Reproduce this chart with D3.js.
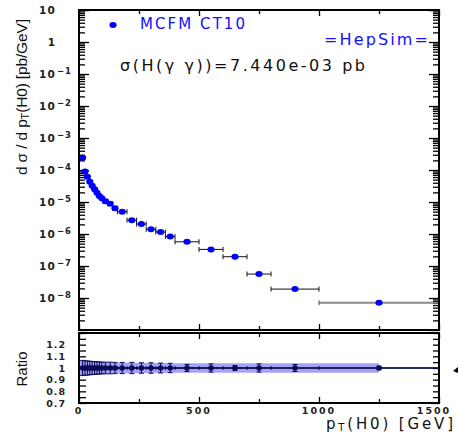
<!DOCTYPE html>
<html><head><meta charset="utf-8">
<script src="https://cdn.jsdelivr.net/npm/d3@7"></script>
<style>
html,body{margin:0;padding:0;background:#fff;}
svg{display:block;}
.tl{font-family:"DejaVu Sans",sans-serif;font-weight:bold;fill:#222;}
</style></head>
<body>
<svg id="c" width="458" height="438"></svg>
<script>
// ---- data ----
const binLo = [10,20,30,40,50,60,70,80,90,100,120,140,160,200,240,280,320,360,400,500,600,700,800,1000];
const binHi = [20,30,40,50,60,70,80,90,100,120,140,160,200,240,280,320,360,400,500,600,700,800,1000,1500];
const xsec  = [2.4e-4,9.0e-5,6.2e-5,4.3e-5,3.2e-5,2.5e-5,1.95e-5,1.55e-5,1.3e-5,1.05e-5,8.8e-6,6.4e-6,5.0e-6,2.7e-6,2.05e-6,1.4e-6,1.15e-6,8.3e-7,5.7e-7,3.3e-7,1.95e-7,5.6e-8,1.9e-8,7.1e-9];
const ratio = [1,1,1,1,1,1,1,1,1,1,1,1,1,1,1,1,1,1,1,1,1,1,1,1];
const ratioErr = [0.065,0.062,0.06,0.058,0.056,0.055,0.053,0.052,0.05,0.05,0.05,0.048,0.048,0.048,0.045,0.045,0.042,0.04,0.03,0.035,0.02,0.035,0.03,0.015];
const bandErr  = [0.065,0.062,0.06,0.058,0.056,0.055,0.053,0.052,0.05,0.05,0.048,0.046,0.045,0.044,0.043,0.042,0.042,0.041,0.04,0.04,0.04,0.04,0.04,0.04];
const xTicksMajor = [0,500,1000,1500];
const xTicksMinor = [250,750,1250];
const yDecades = [1,0,-1,-2,-3,-4,-5,-6,-7,-8];
const ratioLabels = [1.2,1.1,1,0.9,0.8,0.7];
const legendName = "MCFM CT10";
const xsecText = "σ(H(γ γ))=7.440e-03 pb";
const brand = "=HepSim=";

const svg = d3.select("#c");
const L=79,R=439,T=10,B=330,RT=333,RB=403;
const x = d3.scaleLinear().domain([0,1500]).range([L,R]);
const y = d3.scaleLog().domain([1e-9,10]).range([B,T]);
const yr = d3.scaleLinear().domain([0.7,1.3]).range([RB,RT]);

function styleAxis(g){ g.select(".domain").remove(); g.selectAll("line").attr("stroke","#000").attr("stroke-width",1.3); g.selectAll("text").remove(); }

// ---- main panel ticks ----
const majorY = yDecades.map(e=>Math.pow(10,e)).concat([1e-9,10]);
const minorY = [];
for(let e=-9;e<1;e++){ for(let k=2;k<10;k++) minorY.push(k*Math.pow(10,e)); }
svg.append("g").attr("transform",`translate(${L},0)`).call(d3.axisLeft(y).tickValues(majorY).tickSize(-10)).call(styleAxis);
svg.append("g").attr("transform",`translate(${L},0)`).call(d3.axisLeft(y).tickValues(minorY).tickSize(-6)).call(styleAxis);
svg.append("g").attr("transform",`translate(${R},0)`).call(d3.axisRight(y).tickValues(majorY).tickSize(-10)).call(styleAxis);
svg.append("g").attr("transform",`translate(${R},0)`).call(d3.axisRight(y).tickValues(minorY).tickSize(-6)).call(styleAxis);
svg.append("g").attr("transform",`translate(0,${B})`).call(d3.axisBottom(x).tickValues(xTicksMajor).tickSize(-6)).call(styleAxis);
svg.append("g").attr("transform",`translate(0,${B})`).call(d3.axisBottom(x).tickValues(xTicksMinor).tickSize(-4)).call(styleAxis);
svg.append("g").attr("transform",`translate(0,${T})`).call(d3.axisTop(x).tickValues(xTicksMajor).tickSize(-6)).call(styleAxis);
svg.append("g").attr("transform",`translate(0,${T})`).call(d3.axisTop(x).tickValues(xTicksMinor).tickSize(-4)).call(styleAxis);

// ---- ratio panel ticks ----
const rTicks = d3.range(0.7,1.3001,0.05);
svg.append("g").attr("transform",`translate(${L},0)`).call(d3.axisLeft(yr).tickValues(rTicks).tickSize(-7)).call(styleAxis);
svg.append("g").attr("transform",`translate(${R},0)`).call(d3.axisRight(yr).tickValues(rTicks).tickSize(-6)).call(styleAxis);
svg.append("g").attr("transform",`translate(0,${RB})`).call(d3.axisBottom(x).tickValues(xTicksMajor).tickSize(-6)).call(styleAxis);
svg.append("g").attr("transform",`translate(0,${RB})`).call(d3.axisBottom(x).tickValues(xTicksMinor).tickSize(-4)).call(styleAxis);
svg.append("g").attr("transform",`translate(0,${RT})`).call(d3.axisTop(x).tickValues(xTicksMajor).tickSize(-6)).call(styleAxis);
svg.append("g").attr("transform",`translate(0,${RT})`).call(d3.axisTop(x).tickValues(xTicksMinor).tickSize(-4)).call(styleAxis);

// ---- main data ----
const idx = d3.range(binLo.length);
const mid = i => (binLo[i]+binHi[i])/2;
const last = binLo.length-1;
const eb = svg.append("g");
idx.forEach(i=>{
  const col = i===last ? "#888" : "#111";
  const sw = i===last ? 2 : 1;
  const yy = y(xsec[i]);
  eb.append("line").attr("x1",x(binLo[i])).attr("x2",x(binHi[i])).attr("y1",yy).attr("y2",yy).attr("stroke",col).attr("stroke-width",sw);
  [binLo[i],binHi[i]].forEach(v=>eb.append("line").attr("x1",x(v)).attr("x2",x(v)).attr("y1",yy-2.5).attr("y2",yy+2.5).attr("stroke",i===last?"#555":"#111").attr("stroke-width",1));
});
svg.append("g").selectAll("ellipse").data(idx).join("ellipse")
  .attr("cx",i=>x(mid(i))).attr("cy",i=>y(xsec[i])).attr("rx",3.6).attr("ry",3).attr("fill","#0000ff");

// ---- ratio data ----
svg.append("path").attr("d", d3.area().x((i,k)=> k===0? x(0.5): x(mid(i))).y0(i=>yr(1-bandErr[i])).y1(i=>yr(1+bandErr[i]))(idx))
  .attr("fill","#9d9df3").attr("opacity",0.95);
svg.append("line").attr("x1",L).attr("x2",R).attr("y1",yr(1)).attr("y2",yr(1)).attr("stroke","#222").attr("stroke-width",1);
const rg = svg.append("g");
const navy = "#0a0a55";
idx.forEach(i=>{
  const yy = yr(ratio[i]);
  rg.append("line").attr("x1",x(binLo[i])).attr("x2",x(binHi[i])).attr("y1",yy).attr("y2",yy).attr("stroke",navy).attr("stroke-width",1.6);
  [binLo[i],binHi[i]].forEach(v=>rg.append("line").attr("x1",x(v)).attr("x2",x(v)).attr("y1",yy-1.5).attr("y2",yy+1.5).attr("stroke",navy).attr("stroke-width",1));
  const xm = x(mid(i));
  rg.append("line").attr("x1",xm).attr("x2",xm).attr("y1",yr(ratio[i]-ratioErr[i])).attr("y2",yr(ratio[i]+ratioErr[i])).attr("stroke",navy).attr("stroke-width",1);
  [ratio[i]-ratioErr[i],ratio[i]+ratioErr[i]].forEach(v=>rg.append("line").attr("x1",xm-2.5).attr("x2",xm+2.5).attr("y1",yr(v)).attr("y2",yr(v)).attr("stroke",navy).attr("stroke-width",1));
});
svg.append("g").selectAll("circle").data(idx).join("circle")
  .attr("cx",i=>x(mid(i))).attr("cy",i=>yr(ratio[i])).attr("r",2.8).attr("fill",navy);

// ---- frames ----
svg.append("rect").attr("x",L).attr("y",T).attr("width",R-L).attr("height",B-T).attr("fill","none").attr("stroke","#000").attr("stroke-width",2);
svg.append("rect").attr("x",L).attr("y",RT).attr("width",R-L).attr("height",RB-RT).attr("fill","none").attr("stroke","#000").attr("stroke-width",2);

// ---- y tick labels (main) ----
yDecades.forEach(e=>{
  const yy = y(Math.pow(10,e));
  if(e===0){
    svg.append("text").attr("class","tl").attr("x",55).attr("y",yy+3.5).attr("text-anchor","end").attr("font-size",10.5).text("1");
  } else {
    svg.append("text").attr("class","tl").attr("x",56).attr("y",yy+3.5).attr("text-anchor","end").attr("font-size",10.5).attr("letter-spacing",1.2).text("10");
    if(e!==1) svg.append("text").attr("class","tl").attr("x",57).attr("y",yy-0.5).attr("font-size",8.5).attr("letter-spacing",1).text("\u2212"+(-e));
  }
});
// ratio labels
ratioLabels.forEach(v=>{
  svg.append("text").attr("class","tl").attr("x",66).attr("y",yr(v)+3.5).attr("text-anchor","end").attr("font-size",9.5).attr("letter-spacing",1).text(v===1?"1":v.toFixed(1));
});
// x labels
xTicksMajor.forEach(v=>{
  svg.append("text").attr("class","tl").attr("x",v===1500?434:x(v)).attr("y",414).attr("text-anchor","middle").attr("font-size",9.5).attr("letter-spacing",2).text(v);
});

// ---- titles ----
const xt = svg.append("text").attr("x",326).attr("y",429)
  .attr("font-family","DejaVu Sans, sans-serif").attr("font-size",15).attr("fill","#111")
  .attr("textLength",127).attr("lengthAdjust","spacing");
xt.append("tspan").text("p");
xt.append("tspan").attr("font-size",10).attr("dy",2).text("T");
xt.append("tspan").attr("dy",-2).text("(H0) [GeV]");

const yt = svg.append("text").attr("transform","translate(27,97) rotate(-90)").attr("text-anchor","middle")
  .attr("font-family","Liberation Sans, Arial, sans-serif").attr("font-size",15.5).attr("fill","#111")
  .attr("textLength",156).attr("lengthAdjust","spacing");
yt.append("tspan").text("d σ / d p");
yt.append("tspan").attr("font-size",11).attr("dy",2).text("T");
yt.append("tspan").attr("dy",-2).text("(H0) [pb/GeV]");

svg.append("text").attr("transform","translate(27,369) rotate(-90)").attr("text-anchor","middle")
  .attr("font-family","Liberation Sans, Arial, sans-serif").attr("font-size",15).attr("fill","#111").text("Ratio");

// ---- legend / annotations ----
svg.append("ellipse").attr("cx",113).attr("cy",25).attr("rx",3.6).attr("ry",3).attr("fill","#0000ff");
svg.append("text").attr("x",140).attr("y",29).attr("font-family","DejaVu Sans, sans-serif").attr("font-size",15)
  .attr("fill","#1010ff").attr("textLength",105).attr("lengthAdjust","spacing").text(legendName);
svg.append("text").attr("x",324).attr("y",45).attr("font-family","DejaVu Sans, sans-serif").attr("font-size",16)
  .attr("fill","#1010ff").attr("textLength",104).attr("lengthAdjust","spacing").text(brand);
svg.append("text").attr("x",120).attr("y",71).attr("font-family","DejaVu Sans, sans-serif").attr("font-size",16)
  .attr("fill","#111").attr("textLength",245).attr("lengthAdjust","spacing").text(xsecText);

// small arrow marker at right edge of ratio panel
svg.append("path").attr("d","M453,371 L458,367 L458,373 Z").attr("fill","#000");
</script>
</body></html>
